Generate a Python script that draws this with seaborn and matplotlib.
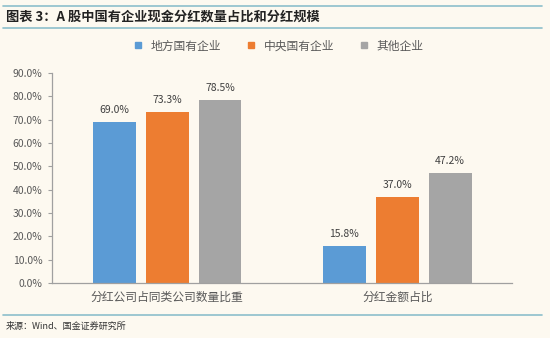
import pandas as pd
import seaborn as sns
import matplotlib.pyplot as plt
from matplotlib.lines import Line2D

categories = ['分红公司占同类公司数量比重', '分红金额占比']
groups = ['地方国有企业', '中央国有企业', '其他企业']
local_soe = [69.0, 15.8]
central_soe = [73.3, 37.0]
others = [78.5, 47.2]
yticks = [0, 10, 20, 30, 40, 50, 60, 70, 80, 90]

df = pd.DataFrame({
    'cat': categories * 3,
    'grp': [g for g in groups for _ in categories],
    'val': local_soe + central_soe + others,
})

bg = '#FDF9F0'
sns.set_style('white')
plt.rcParams['font.family'] = ['Noto Sans CJK SC', 'DejaVu Sans']

fig = plt.figure(figsize=(5.5, 3.38), dpi=100, facecolor=bg)
ax = fig.add_axes([0.0945, 0.163, 0.837, 0.621])
ax.set_facecolor(bg)

palette = ['#5B9BD5', '#ED7D31', '#A5A5A5']
sns.barplot(data=df, x='cat', y='val', hue='grp', hue_order=groups,
            palette=palette, width=0.69, gap=0.19, saturation=1,
            linewidth=0, legend=False, ax=ax)

for cont in ax.containers:
    ax.bar_label(cont, labels=[f'{v:.1f}%' for v in cont.datavalues],
                 padding=5, fontsize=7.5, color='#404040')

ax.set_ylim(0, 90)
ax.set_xlim(-0.5, 1.5)
ax.set_yticks(yticks)
ax.set_yticklabels([f'{t:.1f}%' for t in yticks], fontsize=7.5, color='#595959')
ax.tick_params(axis='x', labelsize=8.5, colors='#595959', length=0, pad=6)
ax.tick_params(axis='y', length=3, color='#A0A0A0', left=True, pad=4)
ax.set_xlabel('')
ax.set_ylabel('')
for s in ['top', 'right']:
    ax.spines[s].set_visible(False)
for s in ['left', 'bottom']:
    ax.spines[s].set_color('#A0A0A0')
    ax.spines[s].set_linewidth(0.9)

handles = [Line2D([], [], marker='s', linestyle='', color=c, markersize=5) for c in palette]
fig.legend(handles, groups, loc='center', bbox_to_anchor=(0.5, 1 - 46 / 338), ncol=3,
           frameon=False, fontsize=8.5, handletextpad=0.1, columnspacing=1.5,
           labelcolor='#595959')

# header / footer rules
line_c = '#8DBFCB'
for y in [1 - 6 / 338, 1 - 28 / 338, 1 - 315 / 338]:
    fig.add_artist(Line2D([0.005, 0.985], [y, y], color=line_c, lw=1.2, transform=fig.transFigure))

fig.text(0.01, 1 - 17 / 338, '图表 3：A 股中国有企业现金分红数量占比和分红规模', fontsize=9.5,
         fontweight='bold', style='italic', va='center', color='#222222')
fig.text(0.01, 1 - 326 / 338, '来源：Wind、国金证券研究所', fontsize=6.5,
         va='center', color='#333333')

fig.savefig('out.png', dpi=100, facecolor=bg)
